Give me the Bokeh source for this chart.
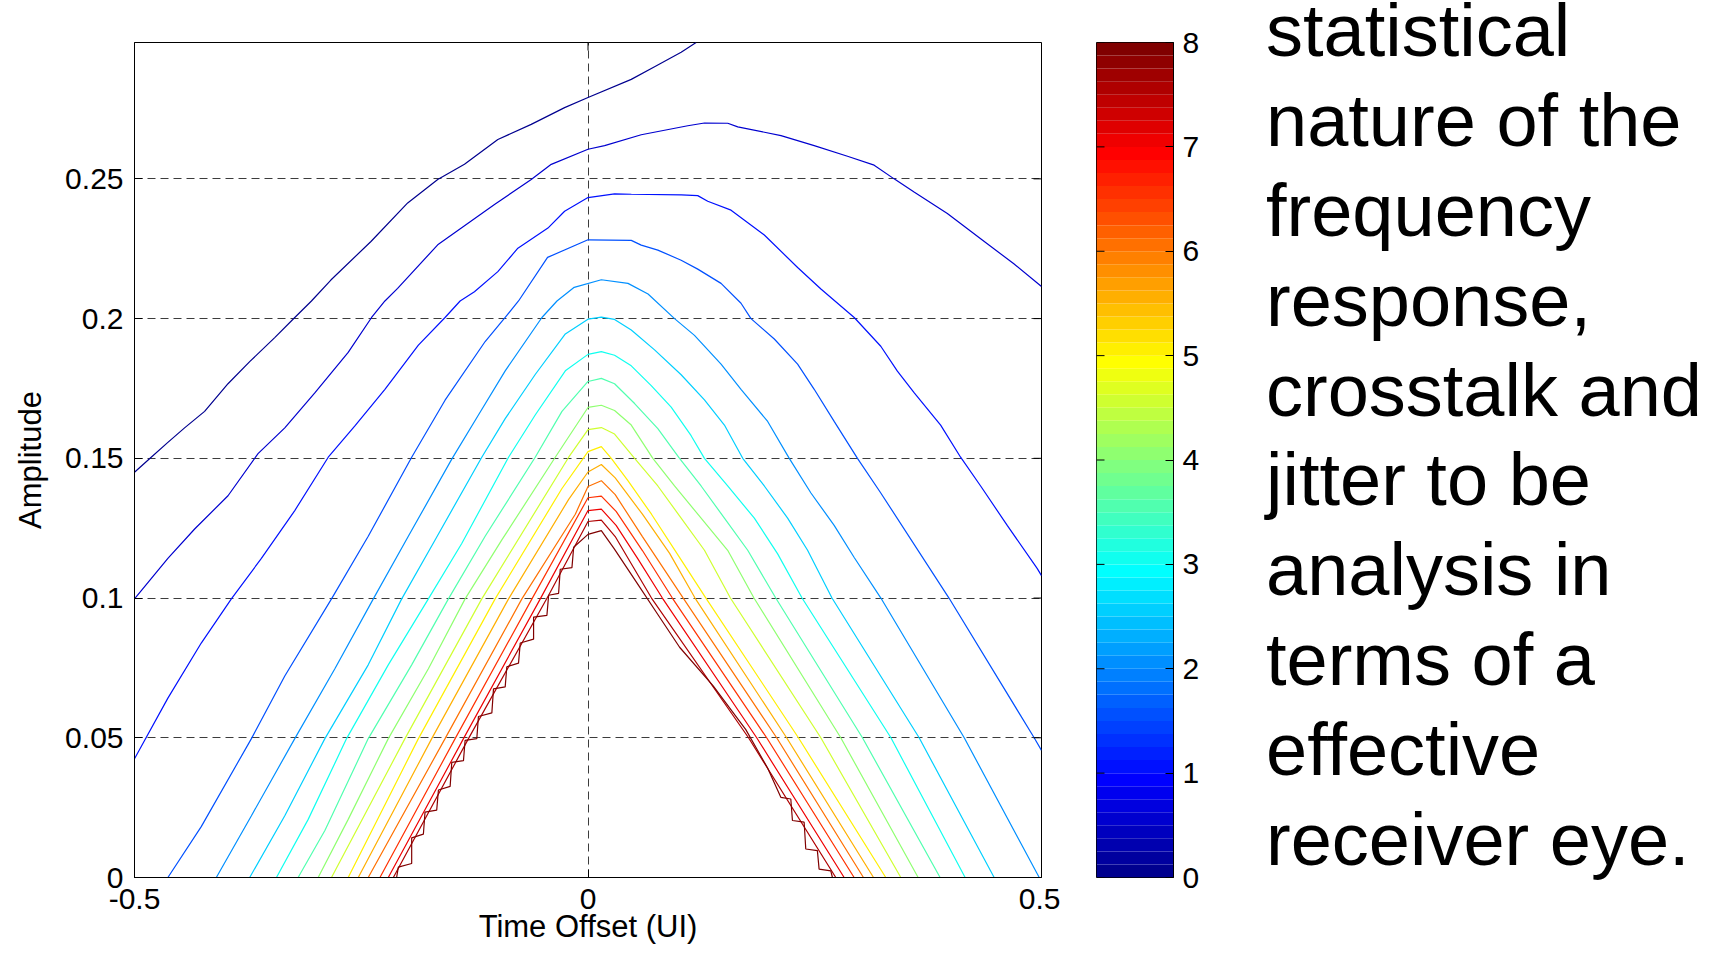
import numpy as np
from bokeh.plotting import figure
from bokeh.models import Range1d, FixedTicker, ColumnDataSource, LinearColorMapper, Div
from bokeh.layouts import row
from bokeh.embed import file_html
from bokeh.resources import INLINE
from bokeh.transform import transform

FONT = "Liberation Sans"

# ---------------- data ----------------
levels = [0.0, 0.5, 1.0, 1.5, 2.0, 2.5, 3.0, 3.5, 4.0, 4.5, 5.0, 5.5, 6.0, 6.5, 7.0, 7.5, 8.0]

c01_x = [-0.5, -0.4816, -0.4632, -0.4448, -0.4227, -0.3969, -0.373, -0.3454, -0.3233, -0.3049, -0.2835, -0.2393, -0.1988, -0.1657, -0.1362, -0.0994, -0.0626, -0.0258, 0.0, 0.0477, 0.0734, 0.1027, 0.1192]
c01_y = [0.145, 0.1504, 0.1557, 0.1609, 0.1668, 0.1767, 0.1846, 0.1932, 0.2004, 0.2063, 0.2138, 0.2276, 0.2414, 0.2498, 0.2552, 0.2641, 0.2695, 0.2755, 0.2791, 0.2856, 0.2901, 0.2953, 0.2988]

c02_x = [-0.5, -0.4632, -0.4337, -0.3969, -0.3638, -0.3343, -0.3012, -0.2644, -0.2386, -0.2239, -0.2099, -0.1657, -0.1031, -0.0626, -0.0405, 0.0, 0.0183, 0.0587, 0.11, 0.1284, 0.1541, 0.1651, 0.2128, 0.2494, 0.2861, 0.3155, 0.3375, 0.3595, 0.3962, 0.4329, 0.4695, 0.5]
c02_y = [0.0997, 0.1142, 0.1247, 0.1366, 0.1517, 0.1609, 0.1734, 0.1879, 0.2004, 0.2063, 0.2108, 0.2264, 0.2408, 0.2498, 0.2552, 0.2606, 0.2619, 0.2658, 0.269, 0.27, 0.2699, 0.2686, 0.2655, 0.2619, 0.2581, 0.2549, 0.25, 0.2453, 0.2376, 0.2286, 0.2196, 0.2115]

c03_x = [-0.5, -0.4632, -0.4264, -0.3932, -0.3601, -0.3233, -0.2864, -0.257, -0.2239, -0.187, -0.1576, -0.141, -0.1252, -0.0994, -0.0773, -0.0442, -0.0258, 0.0, 0.0293, 0.0478, 0.1029, 0.121, 0.132, 0.1577, 0.1944, 0.2311, 0.2568, 0.2935, 0.3228, 0.3411, 0.3595, 0.3888, 0.4108, 0.4329, 0.4622, 0.4952, 0.5]
c03_y = [0.0425, 0.0642, 0.0839, 0.0997, 0.1142, 0.1313, 0.1504, 0.1616, 0.1747, 0.1905, 0.2004, 0.2063, 0.2096, 0.2168, 0.2252, 0.2324, 0.2384, 0.2433, 0.2446, 0.2445, 0.2443, 0.244, 0.242, 0.2388, 0.2299, 0.2183, 0.2106, 0.2004, 0.1901, 0.1812, 0.1735, 0.1619, 0.1504, 0.1401, 0.126, 0.1106, 0.108]

c04_x = [-0.4632, -0.4264, -0.3711, -0.3343, -0.2828, -0.2423, -0.1944, -0.1576, -0.1134, -0.0913, -0.0766, -0.0446, 0.0, 0.0477, 0.0587, 0.077, 0.1027, 0.121, 0.1467, 0.1687, 0.1797, 0.2054, 0.2311, 0.2494, 0.2714, 0.2971, 0.3228, 0.398, 0.4919, 0.5]
c04_y = [0.0, 0.0182, 0.0497, 0.0721, 0.0997, 0.1221, 0.1504, 0.1708, 0.1918, 0.2004, 0.2063, 0.2219, 0.2282, 0.228, 0.2263, 0.2245, 0.2209, 0.2177, 0.2126, 0.2055, 0.2, 0.1927, 0.1837, 0.1747, 0.1632, 0.15, 0.1376, 0.1, 0.05, 0.0455]

c05_x = [-0.4098, -0.3711, -0.3233, -0.2791, -0.2367, -0.1981, -0.1502, -0.1208, -0.0913, -0.0508, -0.0342, -0.0152, 0.0147, 0.0441, 0.0662, 0.0954, 0.1174, 0.1467, 0.1687, 0.1981, 0.2219, 0.2458, 0.2714, 0.2935, 0.3229, 0.4148, 0.4975]
c05_y = [0.0, 0.0221, 0.0497, 0.0747, 0.0997, 0.1221, 0.1497, 0.1655, 0.1813, 0.2004, 0.2063, 0.2112, 0.2139, 0.2126, 0.2088, 0.2, 0.194, 0.1837, 0.1747, 0.1632, 0.15, 0.1376, 0.126, 0.1145, 0.1, 0.05, 0.0]

c06_x = [-0.373, -0.3343, -0.2901, -0.2423, -0.2054, -0.1686, -0.1171, -0.0913, -0.0582, -0.025, 0.0, 0.0147, 0.0293, 0.0477, 0.0734, 0.1027, 0.1284, 0.1504, 0.1706, 0.1944, 0.2201, 0.2421, 0.269, 0.3651, 0.4478]
c06_y = [0.0, 0.0221, 0.0497, 0.0761, 0.0997, 0.1208, 0.1504, 0.1642, 0.18, 0.1945, 0.1998, 0.2005, 0.1997, 0.1959, 0.1888, 0.1799, 0.1709, 0.1619, 0.15, 0.1401, 0.1286, 0.1171, 0.1, 0.05, 0.0]

c07_x = [-0.3435, -0.3085, -0.2662, -0.2202, -0.176, -0.1392, -0.0876, -0.0582, -0.025, 0.0, 0.0147, 0.0293, 0.0477, 0.0697, 0.0917, 0.1137, 0.1284, 0.154, 0.1834, 0.2091, 0.236, 0.334, 0.4158]
c07_y = [0.0, 0.0208, 0.0497, 0.0761, 0.0997, 0.1195, 0.1504, 0.1655, 0.1813, 0.1872, 0.1882, 0.1869, 0.1831, 0.176, 0.1683, 0.1581, 0.15, 0.1401, 0.1286, 0.1158, 0.1, 0.05, 0.0]

c08_x = [-0.3196, -0.2901, -0.2423, -0.1944, -0.1539, -0.1134, -0.0582, -0.0287, 0.0, 0.0147, 0.0293, 0.0514, 0.077, 0.1009, 0.1247, 0.1504, 0.1761, 0.207, 0.3026, 0.3882]
c08_y = [0.0, 0.0168, 0.0497, 0.0761, 0.0997, 0.1221, 0.1504, 0.1668, 0.1775, 0.1786, 0.1767, 0.1696, 0.1606, 0.15, 0.1401, 0.1286, 0.1171, 0.1, 0.05, 0.0]

c09_x = [-0.2975, -0.2644, -0.2202, -0.176, -0.1355, -0.095, -0.0361, 0.0, 0.0147, 0.0293, 0.0477, 0.0715, 0.0954, 0.1247, 0.154, 0.183, 0.2787, 0.364]
c09_y = [0.0, 0.0208, 0.0497, 0.0747, 0.0997, 0.1208, 0.1504, 0.1682, 0.169, 0.1671, 0.1619, 0.15, 0.1401, 0.1286, 0.1171, 0.1, 0.05, 0.0]

c10_x = [-0.2828, -0.2018, -0.1171, -0.0213, 0.0, 0.0147, 0.0293, 0.0514, 0.077, 0.1027, 0.1284, 0.157, 0.2567, 0.3449]
c10_y = [0.0, 0.0497, 0.0997, 0.1504, 0.1603, 0.161, 0.1587, 0.15, 0.1401, 0.1286, 0.1171, 0.1, 0.05, 0.0]

c11_x = [-0.2644, -0.187, -0.1024, -0.0287, 0.0, 0.0147, 0.0257, 0.044, 0.07, 0.1, 0.13, 0.232, 0.3283]
c11_y = [0.0, 0.0497, 0.0997, 0.1392, 0.1524, 0.1542, 0.15, 0.142, 0.13, 0.115, 0.1, 0.05, 0.0]

c12_x = [-0.2533, -0.1723, -0.0876, -0.0213, 0.0, 0.0147, 0.03, 0.06, 0.09, 0.118, 0.219, 0.3148]
c12_y = [0.0, 0.0497, 0.0997, 0.1353, 0.1451, 0.1478, 0.143, 0.13, 0.116, 0.1, 0.05, 0.0]

c13_x = [-0.2423, -0.1576, -0.0729, -0.014, 0.0, 0.0147, 0.03, 0.06, 0.105, 0.208, 0.3037]
c13_y = [0.0, 0.0497, 0.0997, 0.13, 0.1399, 0.142, 0.137, 0.122, 0.1, 0.05, 0.0]

c14_x = [-0.2294, -0.1465, -0.0618, 0.0, 0.0147, 0.031, 0.06, 0.093, 0.197, 0.2934]
c14_y = [0.0, 0.0497, 0.0997, 0.1359, 0.1365, 0.131, 0.117, 0.1, 0.05, 0.0]

c15_x = [-0.2202, -0.1373, -0.0526, 0.0, 0.0147, 0.031, 0.055, 0.082, 0.186, 0.2824]
c15_y = [0.0, 0.0497, 0.0997, 0.1313, 0.1318, 0.126, 0.114, 0.1, 0.05, 0.0]

c16_x = [-0.2146, -0.1318, -0.0434, 0.0, 0.0147, 0.03, 0.05, 0.07, 0.177, 0.2732]
c16_y = [0.0, 0.0497, 0.101, 0.1274, 0.1279, 0.122, 0.111, 0.1, 0.05, 0.0]

c17_x = [-0.211, -0.2091, -0.1944, -0.1944, -0.1815, -0.1797, -0.1668, -0.1649, -0.152, -0.1502, -0.1373, -0.1355, -0.1226, -0.1208, -0.106, -0.1042, -0.0913, -0.0895, -0.0766, -0.0747, -0.06, -0.06, -0.0453, -0.0434, -0.0324, -0.0306, -0.0177, -0.0158, 0.0, 0.0147,
         0.029, 0.053, 0.077, 0.101, 0.138, 0.174, 0.198, 0.2126, 0.2236, 0.2254, 0.2383, 0.2401, 0.2529, 0.2548, 0.2677, 0.2695]
c17_y = [0.0, 0.0037, 0.005, 0.0142, 0.0155, 0.0234, 0.0241, 0.0313, 0.0326, 0.0412, 0.0418, 0.0491, 0.0497, 0.0576, 0.0589, 0.0675, 0.0682, 0.0754, 0.0767, 0.0839, 0.0853, 0.0932, 0.0938, 0.101, 0.1017, 0.1103, 0.1109, 0.1182, 0.1228, 0.1241,
         0.1176, 0.1059, 0.0941, 0.0824, 0.0686, 0.0529, 0.0392, 0.0287, 0.0281, 0.0204, 0.0198, 0.0102, 0.0096, 0.003, 0.0024, 0.0]

contour_xs = [c01_x, c02_x, c03_x, c04_x, c05_x, c06_x, c07_x, c08_x, c09_x,
              c10_x, c11_x, c12_x, c13_x, c14_x, c15_x, c16_x, c17_x]
contour_ys = [c01_y, c02_y, c03_y, c04_y, c05_y, c06_y, c07_y, c08_y, c09_y,
              c10_y, c11_y, c12_y, c13_y, c14_y, c15_y, c16_y, c17_y]

y_ticks = [0, 0.05, 0.1, 0.15, 0.2, 0.25]
y_tick_labels = ["0", "0.05", "0.1", "0.15", "0.2", "0.25"]
x_ticks = [-0.5, 0, 0.5]
x_tick_labels = ["-0.5", "0", "0.5"]
cbar_ticks = [0, 1, 2, 3, 4, 5, 6, 7, 8]

side_text = ["statistical", "nature of the", "frequency", "response,",
             "crosstalk and", "jitter to be", "analysis in", "terms of a",
             "effective", "receiver eye."]

# ---------------- jet colormap (64 entries, MATLAB definition) ----------------
def jet(n=64):
    m = int(np.ceil(n / 4))
    u = np.concatenate([np.arange(1, m + 1) / m, np.ones(m - 1), np.arange(m, 0, -1) / m])
    g = int(np.ceil(m / 2)) - (1 if n % 4 == 1 else 0) + np.arange(1, len(u) + 1)
    r = g + m
    b = g - m
    J = np.zeros((n, 3))
    gg = g[g <= n]
    rr = r[r <= n]
    bb = b[b >= 1]
    J[rr - 1, 0] = u[:len(rr)]
    J[gg - 1, 1] = u[:len(gg)]
    J[bb - 1, 2] = u[len(u) - len(bb):]
    return ["#%02x%02x%02x" % tuple(int(round(c * 255)) for c in row_) for row_ in J]

JET = jet(64)
mapper = LinearColorMapper(palette=JET, low=0, high=8)

H = 947
TOP = 42
FRAME_H = 835
BOTTOM = H - TOP - FRAME_H
TICK = 8
Y_MAX = 0.2988

# ---------------- main contour plot ----------------
p = figure(width=1060, height=H, x_range=Range1d(-0.5, 0.5), y_range=Range1d(0, Y_MAX),
           min_border_left=134, min_border_right=19, min_border_top=TOP, min_border_bottom=BOTTOM,
           toolbar_location=None, output_backend="svg")
p.background_fill_color = "white"
p.border_fill_color = "white"
p.outline_line_color = "black"
p.outline_line_width = 1

p.xgrid.ticker = FixedTicker(ticks=x_ticks)
p.ygrid.ticker = FixedTicker(ticks=y_ticks)
for g_ in (p.xgrid[0], p.ygrid[0]):
    g_.grid_line_color = "#3c3c3c"
    g_.grid_line_dash = "8 5"
    g_.grid_line_width = 1

src = ColumnDataSource(dict(xs=contour_xs, ys=contour_ys, level=levels))
p.multi_line("xs", "ys", source=src, line_color=transform("level", mapper), line_width=1.2)

# inward ticks on the top and right edges of the box
dx = TICK * 1.0 / 907
dy = TICK * Y_MAX / FRAME_H
p.segment(x0=x_ticks, x1=x_ticks, y0=[Y_MAX] * len(x_ticks), y1=[Y_MAX - dy] * len(x_ticks),
          line_color="black", line_width=1)
p.segment(x0=[0.5] * len(y_ticks), x1=[0.5 - dx] * len(y_ticks), y0=y_ticks, y1=y_ticks,
          line_color="black", line_width=1)

for ax in (p.xaxis[0], p.yaxis[0]):
    ax.major_tick_in = TICK
    ax.major_tick_out = 0
    ax.minor_tick_line_color = None
    ax.axis_line_color = "black"
    ax.major_tick_line_color = "black"
    ax.major_label_text_font = FONT
    ax.major_label_text_font_size = "30px"
    ax.major_label_text_color = "black"
    ax.axis_label_text_font = FONT
    ax.axis_label_text_font_size = "31px"
    ax.axis_label_text_font_style = "normal"
    ax.axis_label_text_color = "black"

p.xaxis[0].ticker = FixedTicker(ticks=x_ticks)
p.xaxis[0].major_label_overrides = dict(zip(x_ticks, x_tick_labels))
p.xaxis[0].major_label_standoff = 11
p.xaxis[0].axis_label = "Time Offset (UI)"
p.xaxis[0].axis_label_standoff = -3

p.yaxis[0].ticker = FixedTicker(ticks=y_ticks)
p.yaxis[0].major_label_overrides = dict(zip(y_ticks, y_tick_labels))
p.yaxis[0].major_label_standoff = 11
p.yaxis[0].axis_label = "Amplitude"
p.yaxis[0].axis_label_standoff = 14

# ---------------- colour bar ----------------
cb = figure(width=180, height=H, x_range=Range1d(0, 1), y_range=Range1d(0, 8),
            min_border_left=36, min_border_right=67, min_border_top=TOP, min_border_bottom=BOTTOM,
            x_axis_location=None, y_axis_location="right",
            toolbar_location=None, output_backend="svg")
cb.grid.visible = False
cb.outline_line_color = "black"
band_lo = [i * 8 / 64 for i in range(64)]
band_hi = [(i + 1) * 8 / 64 for i in range(64)]
band_mid = [(a + b) / 2 for a, b in zip(band_lo, band_hi)]
cb.quad(left=0, right=1, bottom="bottom", top="top",
        fill_color=transform("mid", mapper), line_color=None,
        source=ColumnDataSource(dict(bottom=band_lo, top=band_hi, mid=band_mid)))
cb.segment(x0=[0] * len(cbar_ticks), x1=[TICK / 77] * len(cbar_ticks), y0=cbar_ticks, y1=cbar_ticks,
           line_color="black", line_width=1)
ya = cb.yaxis[0]
ya.ticker = FixedTicker(ticks=cbar_ticks)
ya.major_tick_in = TICK
ya.major_tick_out = 0
ya.minor_tick_line_color = None
ya.major_label_text_font = FONT
ya.major_label_text_font_size = "30px"
ya.major_label_text_color = "black"
ya.major_label_standoff = 9
ya.axis_line_color = "black"

# ---------------- side text ----------------
FONT_PX = 74
LINE_PX = 89.9
FIRST_BASELINE = 56.5
baseline_in_line = (LINE_PX - 1.117 * FONT_PX) / 2 + 0.905 * FONT_PX
html = ('<div style="font-family:\'%s\'; font-size:%dpx; line-height:%.1fpx; color:black; '
        'white-space:nowrap; margin:0; padding:0 0 0 26px; position:relative; top:%.1fpx;">%s</div>'
        % (FONT, FONT_PX, LINE_PX, FIRST_BASELINE - baseline_in_line, "<br>".join(side_text)))
txt = Div(text=html, width=462, height=H, styles={"overflow": "hidden", "margin": "0", "padding": "0"})

layout = row(p, cb, txt, spacing=0)
open("out.html", "w").write(file_html(layout, INLINE))
